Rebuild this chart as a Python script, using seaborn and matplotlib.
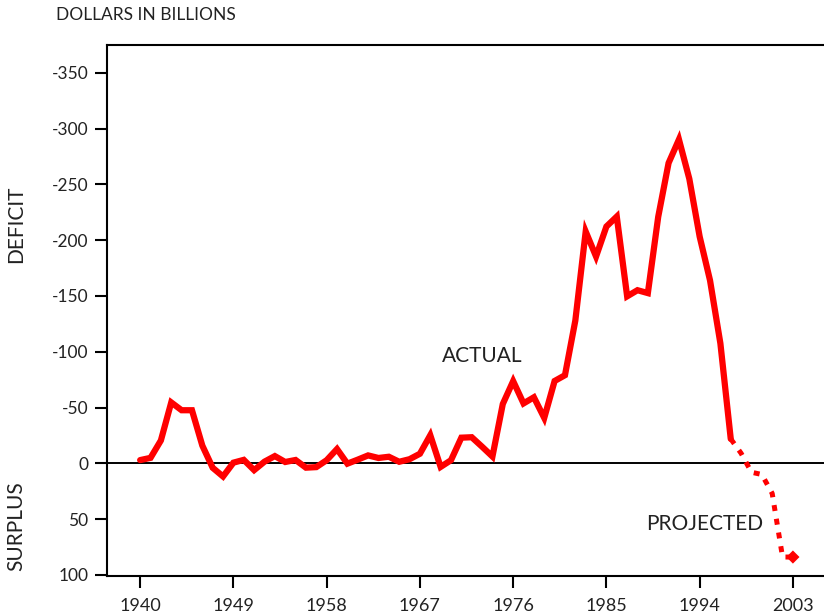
import matplotlib
matplotlib.use("Agg")
import matplotlib.pyplot as plt
import seaborn as sns
import pandas as pd

# ---- data (surplus(+)/deficit(-), $ billions) ----
actual_years = list(range(1940, 1998))
actual_values = [
    -2.9, -4.9, -20.5, -54.6, -47.6, -47.6, -15.9, 4.0, 11.8, -0.6,
    -3.1, 6.1, -1.5, -6.5, -1.2, -3.0, 3.9, 3.4, -2.8, -12.8,
    0.3, -3.3, -7.1, -4.8, -5.9, -1.4, -3.7, -8.6, -25.2, 3.2,
    -2.8, -23.0, -23.4, -14.9, -6.1, -53.2, -73.7, -53.7, -59.2, -40.7,
    -73.8, -79.0, -128.0, -207.8, -185.4, -212.3, -221.2, -149.7, -155.2, -152.6,
    -221.0, -269.2, -290.3, -255.1, -203.2, -164.0, -107.5, -21.9,
]
projected_years = [1997, 1998, 1999, 2000, 2001, 2002, 2003]
projected_values = [-21.9, -9.0, 8.0, 10.0, 27.0, 84.0, 84.0]

x_ticks = [1940, 1949, 1958, 1967, 1976, 1985, 1994, 2003]
y_ticks = [-350, -300, -250, -200, -150, -100, -50, 0, 50, 100]

df_actual = pd.DataFrame({"year": actual_years, "value": actual_values})
df_proj = pd.DataFrame({"year": projected_years, "value": projected_values})

sns.set_theme(style="white")
plt.rcParams["font.family"] = ["Lato", "DejaVu Sans"]
plt.rcParams["lines.scale_dashes"] = False

fig = plt.figure(figsize=(8.24, 6.14), dpi=100)
ax = fig.add_axes([107 / 824, 1 - 576 / 614, 1 - 107 / 824, (576 - 45) / 614])

red = "#FF0000"
ink = "#222222"
ax.axhline(0, color="black", lw=1.4, zorder=1)

sns.lineplot(data=df_actual, x="year", y="value", ax=ax, color=red, lw=4.5,
             estimator=None, sort=False, zorder=3)
sns.lineplot(data=df_proj, x="year", y="value", ax=ax, color=red, lw=3.6,
             estimator=None, sort=False, zorder=3)
proj_line = ax.lines[-1]
proj_line.set_dashes((4.3, 5.7))
proj_line.set_dash_capstyle("butt")
for l in ax.lines[1:]:
    l.set_solid_joinstyle("miter")

sns.scatterplot(x=[projected_years[-1]], y=[projected_values[-1]], ax=ax,
                color=red, marker="D", s=45, edgecolor="none", zorder=4)

ax.set_xlim(1936.8, 2006.0)
ax.set_ylim(101, -375)
ax.set_xticks(x_ticks)
ax.set_yticks(y_ticks)
ax.set_xticklabels([str(t) for t in x_ticks], fontsize=13, color=ink)
ax.set_yticklabels([str(t) for t in y_ticks], fontsize=12.5, color=ink)
ax.tick_params(axis="both", direction="out", length=8.5, width=1.5,
               color="black", bottom=True, left=True)
ax.tick_params(axis="x", pad=7)
ax.tick_params(axis="y", pad=5)
ax.set_xlabel("")
ax.set_ylabel("")

for side in ["left", "bottom", "top"]:
    ax.spines[side].set_visible(True)
    ax.spines[side].set_color("black")
    ax.spines[side].set_linewidth(1.5)
ax.spines["right"].set_visible(False)

ax.text(1973.0, -96, "ACTUAL", fontsize=15, ha="center", va="center", color=ink)
ax.text(1994.5, 54, "PROJECTED", fontsize=15, ha="center", va="center", color=ink)

fig.text(56 / 824, 1 - 15 / 614, "DOLLARS IN BILLIONS", fontsize=12.5,
         ha="left", va="center", color=ink)
fig.text(16 / 824, 1 - 224 / 614, "DEFICIT", fontsize=15, rotation=90,
         ha="center", va="center", color=ink)
fig.text(16 / 824, 1 - 526 / 614, "SURPLUS", fontsize=15, rotation=90,
         ha="center", va="center", color=ink)

fig.savefig("out.png", dpi=100)
